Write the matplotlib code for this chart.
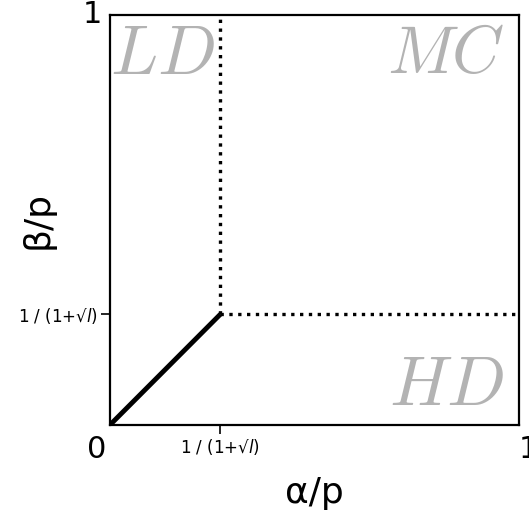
import matplotlib
matplotlib.use('Agg')
import matplotlib.pyplot as plt

# Phase diagram data
crit = 0.27  # 1/(1+sqrt(l))
diag_x = [0, crit]
diag_y = [0, crit]
vert_x = [crit, crit]
vert_y = [crit, 1]
horiz_x = [crit, 1]
horiz_y = [crit, crit]
tick_label = '1 / (1+√$l$)'
regions = ['LD', 'MC', 'HD']

fig = plt.figure(figsize=(5.29, 5.15), dpi=100)
ax = fig.add_axes([0.208, 0.175, 0.773, 0.796])

ax.plot(diag_x, diag_y, color='black', lw=3.5, solid_capstyle='butt')
ax.plot(vert_x, vert_y, color='black', lw=2.4, ls=':')
ax.plot(horiz_x, horiz_y, color='black', lw=2.4, ls=':')

ax.set_xlim(0, 1)
ax.set_ylim(0, 1)
for s in ax.spines.values():
    s.set_linewidth(1.6)

ax.set_xticks([crit])
ax.set_xticklabels([tick_label], fontsize=12)
ax.set_yticks([crit])
ax.set_yticklabels([tick_label], fontsize=12)
ax.tick_params(length=6.5, width=1.2, pad=2)

# corner labels
ax.text(-0.01, -0.025, '0', transform=ax.transAxes, ha='right', va='top', fontsize=22)
ax.text(1.0, -0.025, '1', transform=ax.transAxes, ha='left', va='top', fontsize=22)
ax.text(-0.02, 1.0, '1', transform=ax.transAxes, ha='right', va='center', fontsize=22)

ax.set_xlabel('α/p', fontsize=26)
ax.set_ylabel('β/p', fontsize=26)
ax.xaxis.set_label_coords(0.5, -0.125)
ax.yaxis.set_label_coords(-0.135, 0.5)

gray = '#b3b3b3'
ax.text(0.0, 0.985, '$' + regions[0] + '$', transform=ax.transAxes, ha='left', va='top',
        fontsize=50, color=gray, math_fontfamily='cm')
ax.text(0.965, 0.985, '$' + regions[1] + '$', transform=ax.transAxes, ha='right', va='top',
        fontsize=48, color=gray, math_fontfamily='cm')
ax.text(0.965, 0.015, '$' + regions[2] + '$', transform=ax.transAxes, ha='right', va='bottom',
        fontsize=50, color=gray, math_fontfamily='cm')

fig.savefig('out.png', dpi=100)
